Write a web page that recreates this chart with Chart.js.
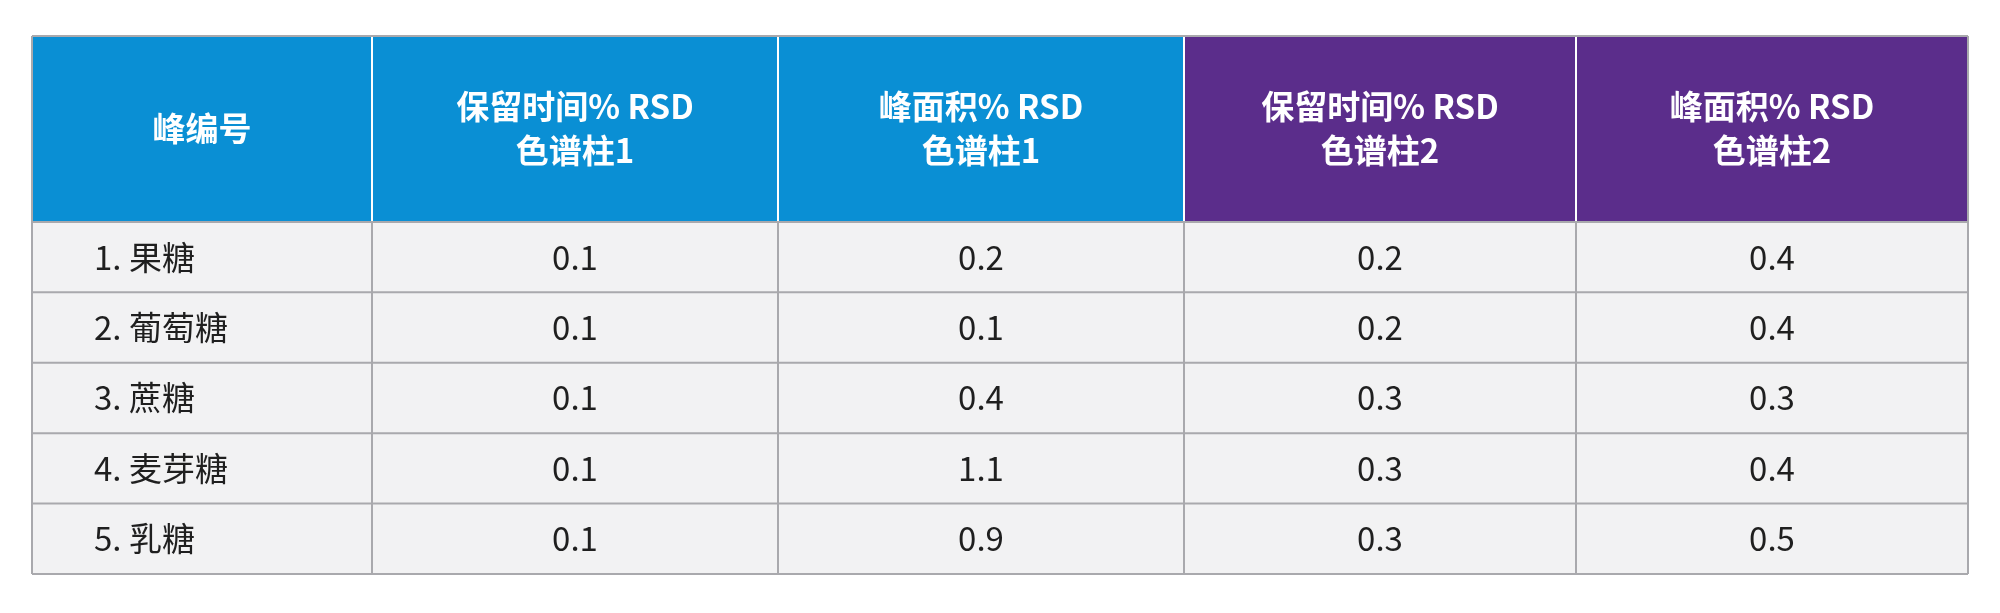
<!DOCTYPE html>
<html><head><meta charset="utf-8">
<script src="https://cdn.jsdelivr.net/npm/chart.js@4"></script>
<style>html,body{margin:0;background:#fff}#wrap{width:2000px;height:613px}</style>
</head><body><div id="wrap"><canvas id="c"></canvas></div>
<script>
// table content
var headers = [["峰编号"], ["保留时间% RSD", "色谱柱1"], ["峰面积% RSD", "色谱柱1"], ["保留时间% RSD", "色谱柱2"], ["峰面积% RSD", "色谱柱2"]];
var peaks = ["1. 果糖", "2. 葡萄糖", "3. 蔗糖", "4. 麦芽糖", "5. 乳糖"];
var rtRsdCol1 = ["0.1", "0.1", "0.1", "0.1", "0.1"];
var areaRsdCol1 = ["0.2", "0.1", "0.4", "1.1", "0.9"];
var rtRsdCol2 = ["0.2", "0.2", "0.3", "0.3", "0.3"];
var areaRsdCol2 = ["0.4", "0.4", "0.3", "0.4", "0.5"];

var colWidths = [340, 406, 406, 392, 392];
var headerColors = ["#0a8fd4", "#0a8fd4", "#0a8fd4", "#5b2d8b", "#5b2d8b"];
var headerH = 2.64;
var columns = [peaks, rtRsdCol1, areaRsdCol1, rtRsdCol2, areaRsdCol2];
var total = colWidths.reduce(function(a, b){ return a + b; }, 0);

var tablePlugin = {
  id: 'table',
  afterDraw: function(chart) {
    var ctx = chart.ctx, xs = chart.scales.x, ys = chart.scales.y;
    var edges = [0];
    colWidths.forEach(function(w){ edges.push(edges[edges.length-1] + w); });
    var nRows = peaks.length;
    ctx.save();
    for (var c = 0; c < columns.length; c++) {
      var x0 = xs.getPixelForValue(edges[c]), x1 = xs.getPixelForValue(edges[c+1]);
      // header
      var h0 = ys.getPixelForValue(0), h1 = ys.getPixelForValue(headerH);
      ctx.fillStyle = headerColors[c];
      ctx.fillRect(x0, h0, x1 - x0, h1 - h0);
      ctx.fillStyle = '#fff';
      ctx.font = 'bold 33px "Noto Sans CJK SC", "Noto Sans", sans-serif';
      ctx.textAlign = 'center'; ctx.textBaseline = 'middle';
      var lines = headers[c], mid = (h0 + h1) / 2, lh = 44;
      lines.forEach(function(t, i){
        ctx.fillText(t, (x0 + x1) / 2, mid + (i - (lines.length - 1) / 2) * lh);
      });
      // body
      for (var r = 0; r < nRows; r++) {
        var y0 = ys.getPixelForValue(headerH + r), y1 = ys.getPixelForValue(headerH + r + 1);
        ctx.fillStyle = '#f2f2f3';
        ctx.fillRect(x0, y0, x1 - x0, y1 - y0);
        ctx.fillStyle = '#1f1f1f';
        ctx.font = '33px "Noto Sans CJK SC", "Noto Sans", sans-serif';
        if (c === 0) { ctx.textAlign = 'left'; ctx.fillText(columns[c][r], x0 + 62, (y0 + y1) / 2); }
        else { ctx.textAlign = 'center'; ctx.fillText(columns[c][r], (x0 + x1) / 2, (y0 + y1) / 2); }
      }
    }
    // grid lines
    ctx.strokeStyle = '#a9a9ad'; ctx.lineWidth = 2;
    var top = ys.getPixelForValue(0), bot = ys.getPixelForValue(headerH + nRows);
    var left = xs.getPixelForValue(0), right = xs.getPixelForValue(total);
    edges.forEach(function(e, i){
      var x = xs.getPixelForValue(e);
      ctx.strokeStyle = (i === 0 || i === edges.length - 1) ? '#a9a9ad' : '#ffffff';
      ctx.beginPath(); ctx.moveTo(x, top); ctx.lineTo(x, ys.getPixelForValue(headerH)); ctx.stroke();
      ctx.strokeStyle = '#a9a9ad';
      ctx.beginPath(); ctx.moveTo(x, ys.getPixelForValue(headerH)); ctx.lineTo(x, bot); ctx.stroke();
    });
    for (var k = 0; k <= nRows; k++) {
      var y = ys.getPixelForValue(headerH + k);
      ctx.beginPath(); ctx.moveTo(left, y); ctx.lineTo(right, y); ctx.stroke();
    }
    ctx.beginPath(); ctx.moveTo(left, top); ctx.lineTo(right, top); ctx.stroke();
    ctx.restore();
  }
};

new Chart(document.getElementById('c'), {
  type: 'scatter',
  data: { datasets: [{ data: [] }] },
  options: {
    responsive: true, maintainAspectRatio: false, animation: false,
    layout: { padding: { left: 32, right: 32, top: 36, bottom: 39 } },
    plugins: { legend: { display: false }, tooltip: { enabled: false } },
    scales: {
      x: { type: 'linear', min: 0, max: total, display: false },
      y: { type: 'linear', min: 0, max: headerH + peaks.length, reverse: true, display: false }
    }
  },
  plugins: [tablePlugin]
});
</script></body></html>
